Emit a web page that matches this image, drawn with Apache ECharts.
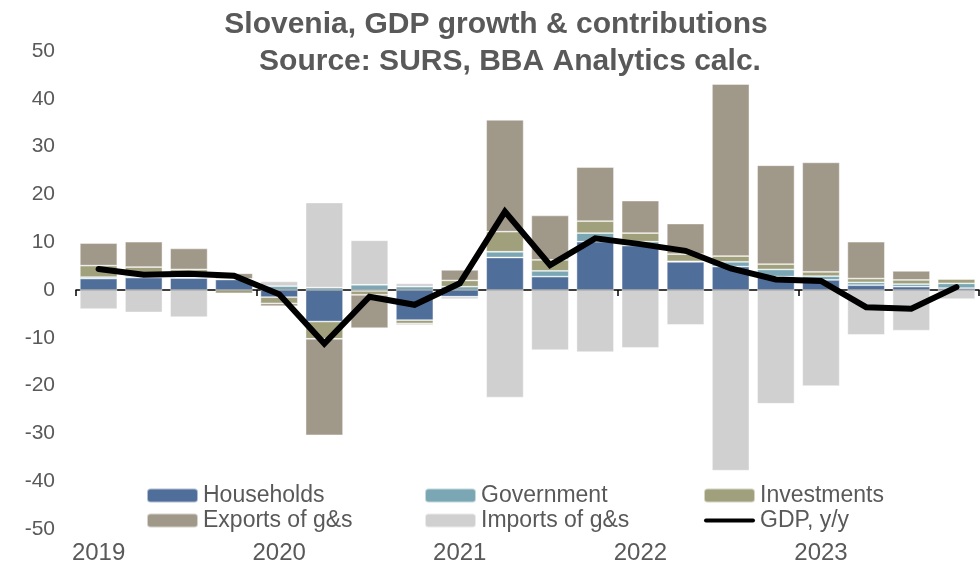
<!DOCTYPE html>
<html>
<head>
<meta charset="utf-8">
<script src="https://cdn.jsdelivr.net/npm/echarts@6/dist/echarts.min.js"></script>
<style>
  html, body { margin: 0; padding: 0; background: #ffffff; }
  #chart { width: 980px; height: 569px; }
</style>
</head>
<body>
<div id="chart"></div>
<script>
// Quarterly contributions to y/y real GDP growth, percentage points
const quarters = [
  '2019Q1','2019Q2','2019Q3','2019Q4',
  '2020Q1','2020Q2','2020Q3','2020Q4',
  '2021Q1','2021Q2','2021Q3','2021Q4',
  '2022Q1','2022Q2','2022Q3','2022Q4',
  '2023Q1','2023Q2','2023Q3','2023Q4'
];
const yearLabels = [
  '2019','','','',
  '2020','','','',
  '2021','','','',
  '2022','','','',
  '2023','','',''
];
const households  = [2.4, 2.6, 2.5, 2.2, -1.5, -6.6, -0.2, -6.3, -1.4, 6.8, 2.8, 10.1, 9.3, 5.9, 4.9, 2.8, 2.1, 1.0, 0.7, 0.4];
const government  = [0.3, 0.3, 0.2, 0.1, 0.8, 0.5, 1.1, 0.7, 0.7, 1.2, 1.2, 1.8, 0.8, 0.1, 1.0, 1.5, 0.8, 0.6, 0.55, 1.0];
const investments = [2.4, 1.9, 1.6, -0.7, -1.3, -3.6, -0.8, -0.7, 1.3, 4.2, 2.3, 2.5, 1.8, 1.5, 1.2, 1.1, 0.9, 0.8, 0.85, 0.9];
const exportsGS   = [4.7, 5.3, 4.4, 1.2, -0.6, -20.2, -7.0, -0.3, 2.2, 23.4, 9.3, 11.3, 6.8, 6.4, 36.0, 20.7, 22.9, 7.7, 1.9, 0.2];
const importsGS   = [-4.0, -4.7, -5.7, -0.1, 1.0, 17.8, 9.3, 0.7, -0.5, -22.5, -12.6, -13.0, -12.1, -7.3, -37.8, -23.8, -20.1, -9.4, -8.5, -1.9];
const gdpYoY      = [4.4, 3.2, 3.4, 3.0, -0.9, -11.2, -1.4, -3.1, 1.4, 16.4, 5.2, 10.8, 9.6, 8.2, 4.5, 2.2, 1.9, -3.6, -3.9, 0.6];

const textColor = '#595959';
const fontFamily = '"Liberation Sans", Arial, sans-serif';

const chart = echarts.init(document.getElementById('chart'), null, { renderer: 'canvas' });

function barSeries(name, data, color) {
  return {
    name: name,
    type: 'bar',
    stack: 'contrib',
    xAxisIndex: 1,
    data: data,
    barWidth: '83%',
    itemStyle: { color: color, borderColor: 'rgba(255,255,255,0.55)', borderWidth: 0.8 },
    emphasis: { disabled: true }
  };
}

const legendText = { color: textColor, fontSize: 23, fontFamily: fontFamily };
const lineIcon = 'path://M2,0 L49,0 A2,2 0 0 1 49,4 L2,4 A2,2 0 0 1 2,0 Z';

function legendColumn(left, names) {
  return {
    orient: 'vertical', left: left, top: 479, itemGap: 2,
    itemWidth: 51, itemHeight: 14, textStyle: legendText,
    data: names
  };
}

chart.setOption({
  animation: false,
  title: [
    {
      text: 'Slovenia, GDP growth & contributions',
      left: 491, top: 5, textAlign: 'center',
      textStyle: { color: textColor, fontSize: 30, fontWeight: 'bold', fontFamily: fontFamily }
    },
    {
      text: 'Source: SURS, BBA Analytics calc.',
      left: 505, top: 42, textAlign: 'center',
      textStyle: { color: textColor, fontSize: 30, fontWeight: 'bold', fontFamily: fontFamily }
    }
  ],
  legend: [
    legendColumn(141, ['Households', 'Exports of g&s']),
    legendColumn(419, ['Government', 'Imports of g&s']),
    legendColumn(698, ['Investments', { name: 'GDP, y/y', icon: lineIcon }])
  ],
  grid: { left: 76, right: 1, top: 51, bottom: 40, containLabel: false },
  xAxis: [
    {
      // zero line with year separators
      type: 'category',
      data: quarters,
      position: 'top',
      boundaryGap: true,
      axisLine: { show: true, onZero: true, lineStyle: { color: '#000000', width: 1.5 } },
      axisTick: { show: true, inside: true, length: 6, interval: 3, lineStyle: { color: '#000000', width: 1.5 } },
      axisLabel: { show: false },
      splitLine: { show: false }
    },
    {
      // year labels under the plot
      type: 'category',
      data: quarters,
      position: 'bottom',
      boundaryGap: true,
      axisLine: { show: false, onZero: false },
      axisTick: { show: false },
      axisLabel: {
        show: true, interval: 0, margin: 12,
        color: textColor, fontSize: 24, fontFamily: fontFamily,
        formatter: function (v, i) { return yearLabels[i]; }
      },
      splitLine: { show: false }
    }
  ],
  yAxis: {
    type: 'value',
    min: -50, max: 50, interval: 10,
    axisLine: { show: false },
    axisTick: { show: false },
    splitLine: { show: false },
    axisLabel: { margin: 21, color: textColor, fontSize: 21, fontFamily: fontFamily }
  },
  series: [
    barSeries('Households', households, '#506e9a'),
    barSeries('Government', government, '#7aa7b3'),
    barSeries('Investments', investments, '#a0a07c'),
    barSeries('Exports of g&s', exportsGS, '#a09889'),
    barSeries('Imports of g&s', importsGS, '#d0d0d0'),
    {
      name: 'GDP, y/y',
      type: 'line',
      xAxisIndex: 1,
      data: gdpYoY,
      symbol: 'none',
      itemStyle: { color: '#000000' },
      lineStyle: { color: '#000000', width: 6, join: 'miter', cap: 'round' },
      emphasis: { disabled: true },
      z: 5
    }
  ]
});
</script>
</body>
</html>
